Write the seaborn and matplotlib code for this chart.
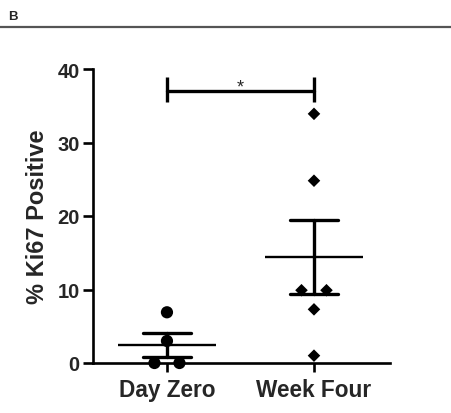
import numpy as np
import pandas as pd
import matplotlib
matplotlib.use("Agg")
import matplotlib.pyplot as plt
from matplotlib.lines import Line2D
from matplotlib.markers import MarkerStyle
import seaborn as sns

# data
groups = ["Day Zero", "Week Four"]
day_zero = [6.9, 3.0, 0.0, 0.0]
week_four = [33.9, 24.8, 9.9, 9.9, 7.3, 1.0]
y_ticks = [0, 10, 20, 30, 40]
y_label = "% Ki67 Positive"
sig_label = "*"
panel_label = "B"

df = pd.DataFrame({
    "group": [groups[0]] * len(day_zero) + [groups[1]] * len(week_four),
    "value": day_zero + week_four,
})

sns.set_style("ticks")
plt.rcParams["font.family"] = ["Liberation Sans", "DejaVu Sans"]

fig = plt.figure(figsize=(4.51, 4.14), dpi=100)
ax = fig.add_axes([93 / 451, 1 - 364 / 414, (390 - 93) / 451, (364 - 70) / 414])

# individual points
sns.stripplot(data=df, x="group", y="value", hue="group", order=groups,
              palette=["black", "black"], jitter=False, size=8.8,
              linewidth=0, legend=False, ax=ax)
markers = ["o", "D"]
for coll, m in zip(ax.collections, markers):
    ms = MarkerStyle(m)
    coll.set_paths([ms.get_path().transformed(ms.get_transform())])
    coll.set_clip_on(False)
    # spread tied values side by side, prism style
    offs = coll.get_offsets().copy()
    for v in np.unique(offs[:, 1]):
        idx = np.where(offs[:, 1] == v)[0]
        if len(idx) > 1:
            offs[idx, 0] += (np.arange(len(idx)) - (len(idx) - 1) / 2) * 0.17
    coll.set_offsets(offs)
ax.collections[1].set_sizes([6.4 ** 2])

# mean +/- SEM
sns.pointplot(data=df, x="group", y="value", order=groups, errorbar="se",
              color="black", linestyle="none", marker="_", markersize=70,
              markeredgewidth=1.7, capsize=0.33, err_kws={"linewidth": 2.4},
              ax=ax)

# significance bracket
ax.plot([0, 0], [35.5, 38.9], color="black", lw=2.4, solid_capstyle="butt", clip_on=False)
ax.plot([1, 1], [35.5, 38.9], color="black", lw=2.4, solid_capstyle="butt", clip_on=False)
ax.plot([0, 1], [37.0, 37.0], color="black", lw=2.4, clip_on=False)
ax.text(0.5, 37.0, sig_label, ha="center", va="baseline", fontsize=13)

ax.set_xlim(-0.503, 1.517)
ax.set_ylim(0, 40)
ax.set_yticks(y_ticks)
ax.set_xlabel("")
ax.set_ylabel(y_label, fontsize=17, fontweight="bold", labelpad=6)
for lab in ax.get_xticklabels() + ax.get_yticklabels():
    lab.set_fontweight("bold")
ax.tick_params(axis="y", labelsize=14.5, width=1.9, length=7.5, pad=2, color="black")
ax.tick_params(axis="x", labelsize=16.3, width=1.9, length=6.5, pad=4, color="black")
sns.despine(ax=ax)
for s in ["left", "bottom"]:
    ax.spines[s].set_linewidth(1.9)
    ax.spines[s].set_color("black")

# panel header
fig.text(8 / 451, 1 - 17 / 414, panel_label, fontsize=9.5, fontweight="bold",
         va="center", ha="left")
fig.add_artist(Line2D([0, 1], [1 - 28 / 414, 1 - 28 / 414], transform=fig.transFigure,
                      color="#555555", lw=1.6))

fig.savefig("out.png", dpi=100)
